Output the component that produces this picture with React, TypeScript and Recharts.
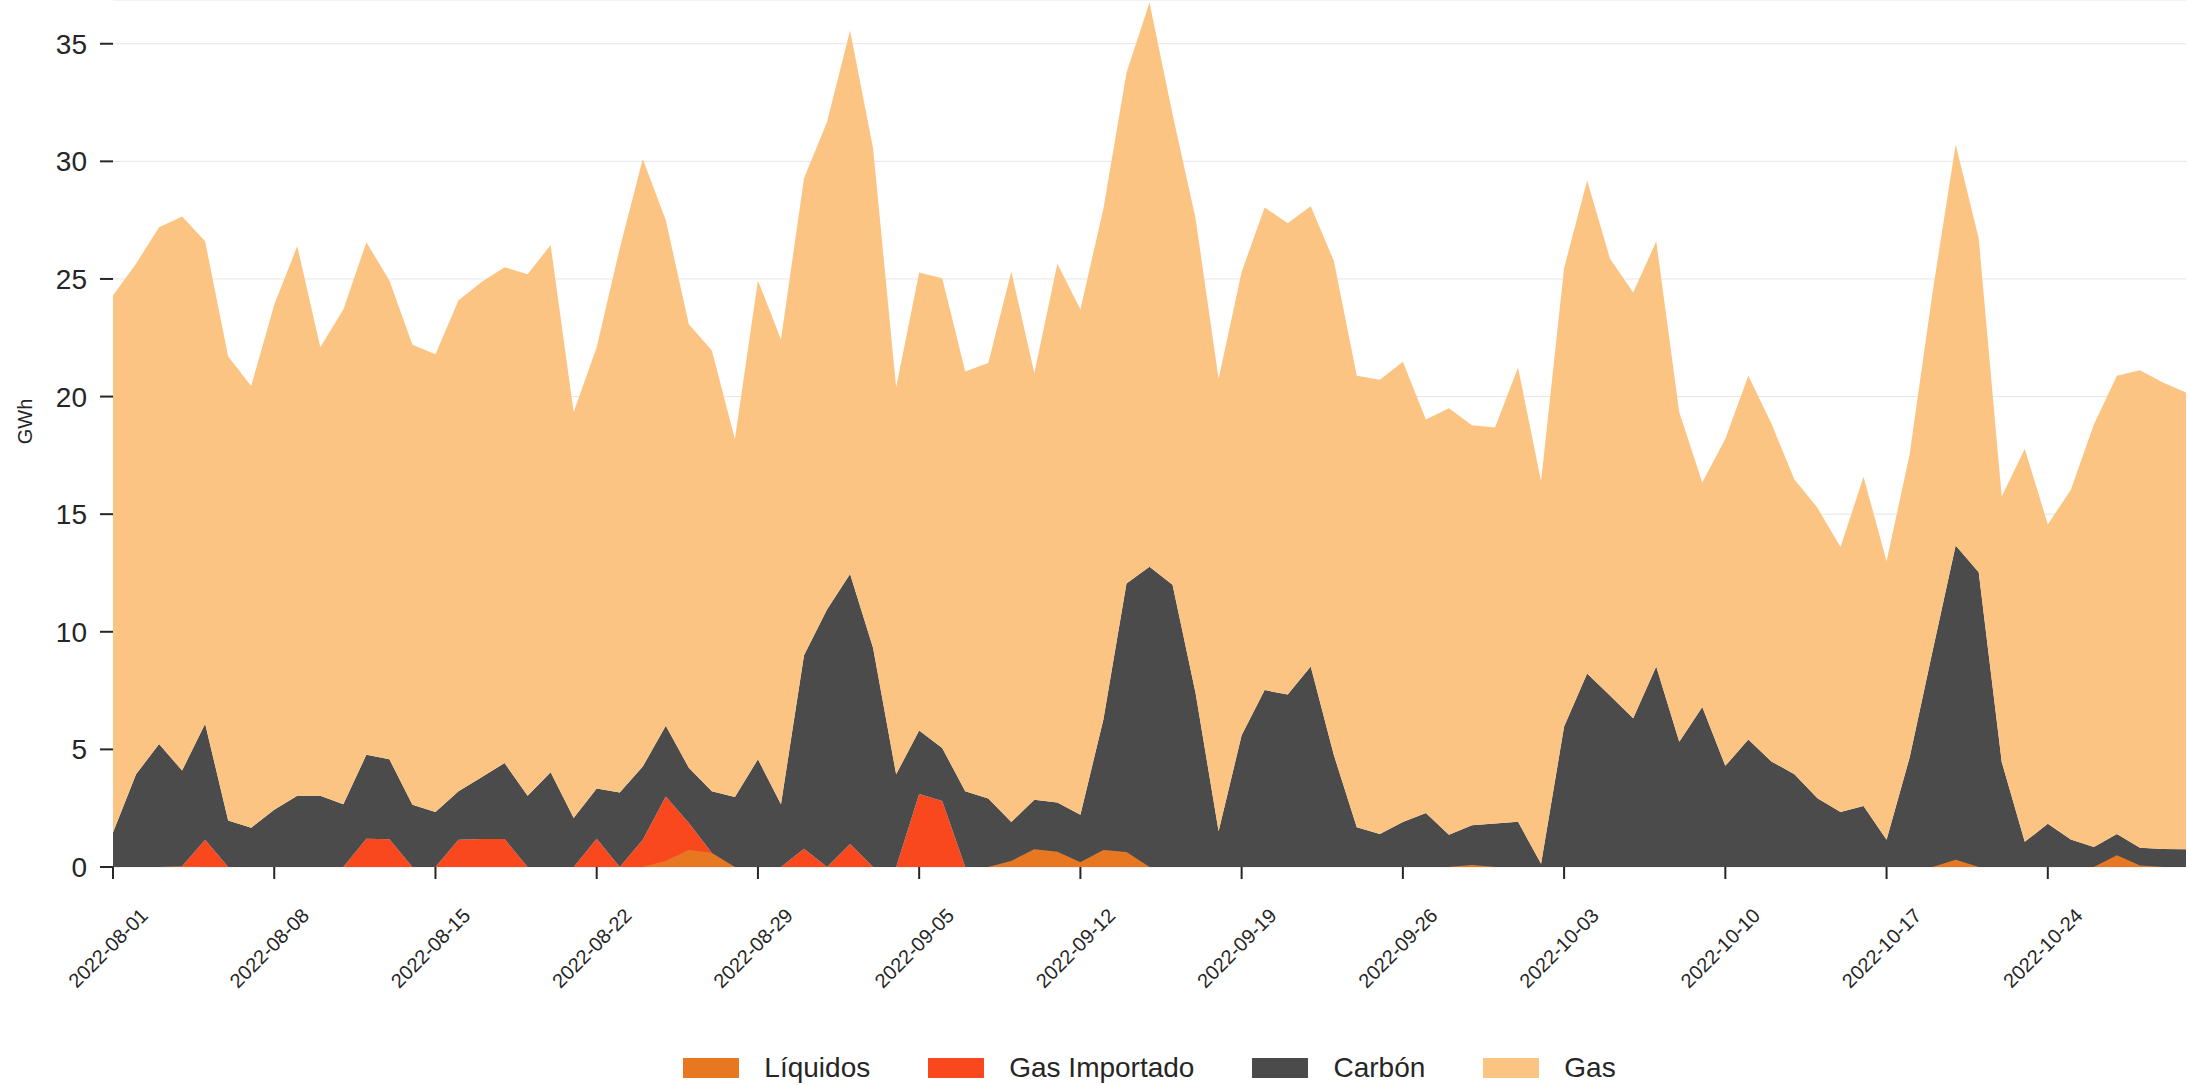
import React from 'react';
import { AreaChart, Area, XAxis, YAxis, CartesianGrid } from 'recharts';

// daily generation, GWh, 2022-08-01 .. 2022-10-30 (one row per week)
const liquidos = [
  0, 0, 0, 0.02, 0, 0, 0,
  0, 0, 0, 0, 0, 0, 0,
  0, 0, 0, 0, 0, 0, 0,
  0, 0, 0, 0.26, 0.72, 0.6, 0,
  0, 0, 0, 0, 0, 0, 0,
  0, 0, 0, 0, 0.26, 0.75, 0.65,
  0.2, 0.72, 0.64, 0, 0, 0, 0,
  0, 0, 0, 0, 0, 0, 0,
  0, 0, 0, 0.08, 0, 0, 0,
  0, 0, 0, 0, 0, 0, 0,
  0, 0, 0, 0, 0, 0, 0,
  0, 0, 0, 0.31, 0, 0, 0,
  0, 0, 0, 0.5, 0.06, 0, 0,
];

const gasImportado = [
  0, 0, 0, 0.01, 1.16, 0, 0,
  0, 0, 0, 0, 1.2, 1.18, 0,
  0, 1.16, 1.19, 1.19, 0, 0, 0,
  1.2, 0, 1.16, 2.74, 1.15, 0, 0,
  0, 0, 0.78, 0, 0.98, 0, 0,
  3.1, 2.81, 0, 0, 0, 0, 0,
  0, 0, 0, 0, 0, 0, 0,
  0, 0, 0, 0, 0, 0, 0,
  0, 0, 0, 0, 0, 0, 0,
  0, 0, 0, 0, 0, 0, 0,
  0, 0, 0, 0, 0, 0, 0,
  0, 0, 0, 0, 0, 0, 0,
  0, 0, 0, 0, 0, 0, 0,
];

const carbon = [
  1.47, 3.94, 5.23, 4.07, 4.93, 1.98, 1.67,
  2.43, 3.03, 3.03, 2.67, 3.57, 3.4, 2.65,
  2.34, 2.06, 2.63, 3.23, 3.03, 4.03, 2.08,
  2.14, 3.17, 3.11, 3.01, 2.35, 2.62, 2.98,
  4.58, 2.67, 8.22, 10.95, 11.48, 9.31, 3.94,
  2.7, 2.25, 3.22, 2.91, 1.65, 2.11, 2.09,
  2.02, 5.56, 11.41, 12.77, 12.0, 7.4, 1.52,
  5.6, 7.52, 7.33, 8.52, 4.77, 1.69, 1.4,
  1.91, 2.3, 1.37, 1.69, 1.85, 1.92, 0.14,
  5.97, 8.23, 7.28, 6.32, 8.52, 5.32, 6.8,
  4.3, 5.42, 4.49, 3.94, 2.92, 2.34, 2.59,
  1.16, 4.65, 9.19, 13.36, 12.53, 4.46, 1.07,
  1.84, 1.17, 0.85, 0.9, 0.76, 0.76, 0.75,
];

const gas = [
  22.83, 21.71, 21.97, 23.56, 20.51, 19.72, 18.78,
  21.47, 23.37, 19.07, 21.03, 21.79, 20.36, 19.55,
  19.46, 20.88, 21.05, 21.08, 22.17, 22.41, 17.25,
  18.76, 23.13, 25.83, 21.49, 18.86, 18.74, 15.22,
  20.36, 19.76, 20.28, 20.72, 23.1, 21.24, 16.46,
  19.47, 19.97, 17.85, 18.52, 23.41, 18.14, 22.91,
  21.48, 21.72, 21.72, 23.98, 20.0, 20.17, 19.24,
  19.7, 20.52, 20.04, 19.57, 21.01, 19.19, 19.32,
  19.57, 16.72, 18.13, 17.01, 16.84, 19.32, 16.26,
  19.5, 20.96, 18.57, 18.1, 18.08, 14.01, 9.55,
  13.91, 15.46, 14.36, 12.53, 12.35, 11.26, 14.0,
  11.84, 12.89, 15.27, 17.05, 14.2, 11.29, 16.71,
  12.72, 14.87, 17.96, 19.48, 20.3, 19.84, 19.42,
];

const weekTicks = [
  '2022-08-01', '2022-08-08', '2022-08-15', '2022-08-22', '2022-08-29', '2022-09-05',
  '2022-09-12', '2022-09-19', '2022-09-26', '2022-10-03', '2022-10-10', '2022-10-17',
  '2022-10-24',
];

const yTicks = [0, 5, 10, 15, 20, 25, 30, 35];

const series = [
  { key: 'liquidos', name: 'Líquidos', color: '#E87722' },
  { key: 'gasImportado', name: 'Gas Importado', color: '#F9481E' },
  { key: 'carbon', name: 'Carbón', color: '#4B4B4B' },
  { key: 'gas', name: 'Gas', color: '#FCC483' },
];

const startDate = Date.UTC(2022, 7, 1);
const data = gas.map((g, i) => ({
  date: new Date(startDate + i * 86400000).toISOString().slice(0, 10),
  liquidos: liquidos[i],
  gasImportado: gasImportado[i],
  carbon: carbon[i],
  gas: g,
}));

const FONT = '"Liberation Sans", Arial, Helvetica, sans-serif';
const TEXT = '#262626';

const W = 2188;
const H = 1085;
const PLOT_LEFT = 113;
const PLOT_RIGHT = 2186;
const PLOT_BOTTOM = 867;

// rotated date label, its box centred just under the tick
function DateTick(props: any) {
  const { x, y, payload } = props;
  const cx = x - 5;
  const cy = y + 69;
  return (
    <text
      x={cx}
      y={cy}
      transform={`rotate(-45 ${cx} ${cy})`}
      textAnchor="middle"
      dominantBaseline="central"
      fontSize={20}
      fontFamily={FONT}
      fill={TEXT}
    >
      {payload.value}
    </text>
  );
}

function UnitLabel(props: any) {
  const vb = props.viewBox || { x: 0, y: 0, height: PLOT_BOTTOM };
  const x = 25;
  const y = vb.y + vb.height / 2 - 12;
  return (
    <text
      x={x}
      y={y}
      transform={`rotate(-90 ${x} ${y})`}
      textAnchor="middle"
      dominantBaseline="central"
      fontSize={20}
      fontFamily={FONT}
      fill={TEXT}
    >
      GWh
    </text>
  );
}

export default function App() {
  return (
    <div style={{ position: 'absolute', left: 0, top: 0, width: W, height: H, background: '#fff' }}>
      <AreaChart
        width={W}
        height={H}
        data={data}
        margin={{ top: 0, right: W - PLOT_RIGHT, left: 0, bottom: 0 }}
      >
        <CartesianGrid vertical={false} stroke="#E6E6E6" strokeWidth={1} />
        <XAxis
          dataKey="date"
          ticks={weekTicks}
          interval={0}
          height={H - PLOT_BOTTOM}
          axisLine={false}
          tickSize={12}
          tickMargin={0}
          tickLine={{ stroke: TEXT, strokeWidth: 2 }}
          tick={<DateTick />}
        />
        <YAxis
          width={PLOT_LEFT}
          domain={[0, 36.86]}
          ticks={yTicks}
          allowDataOverflow
          axisLine={false}
          tickSize={13}
          tickMargin={13}
          tickLine={{ stroke: TEXT, strokeWidth: 2 }}
          tick={{ fontSize: 28, fill: TEXT, fontFamily: FONT }}
          label={{ content: <UnitLabel /> }}
        />
        {series.map((s) => (
          <Area
            key={s.key}
            type="linear"
            dataKey={s.key}
            name={s.name}
            stackId="mix"
            fill={s.color}
            fillOpacity={1}
            stroke={s.key === 'liquidos' ? s.color : 'none'}
            strokeWidth={1}
            isAnimationActive={false}
            dot={false}
            activeDot={false}
          />
        ))}
      </AreaChart>
      <div
        style={{
          position: 'absolute',
          left: PLOT_LEFT,
          width: PLOT_RIGHT - PLOT_LEFT,
          top: 1050,
          height: 36,
          display: 'flex',
          justifyContent: 'center',
          alignItems: 'center',
          gap: 58,
          fontFamily: FONT,
          fontSize: 28,
          color: TEXT,
        }}
      >
        {series.map((s) => (
          <div key={s.key} style={{ display: 'flex', alignItems: 'center', gap: 25 }}>
            <span style={{ display: 'inline-block', width: 56, height: 20, background: s.color }} />
            <span style={{ lineHeight: '36px' }}>{s.name}</span>
          </div>
        ))}
      </div>
    </div>
  );
}
